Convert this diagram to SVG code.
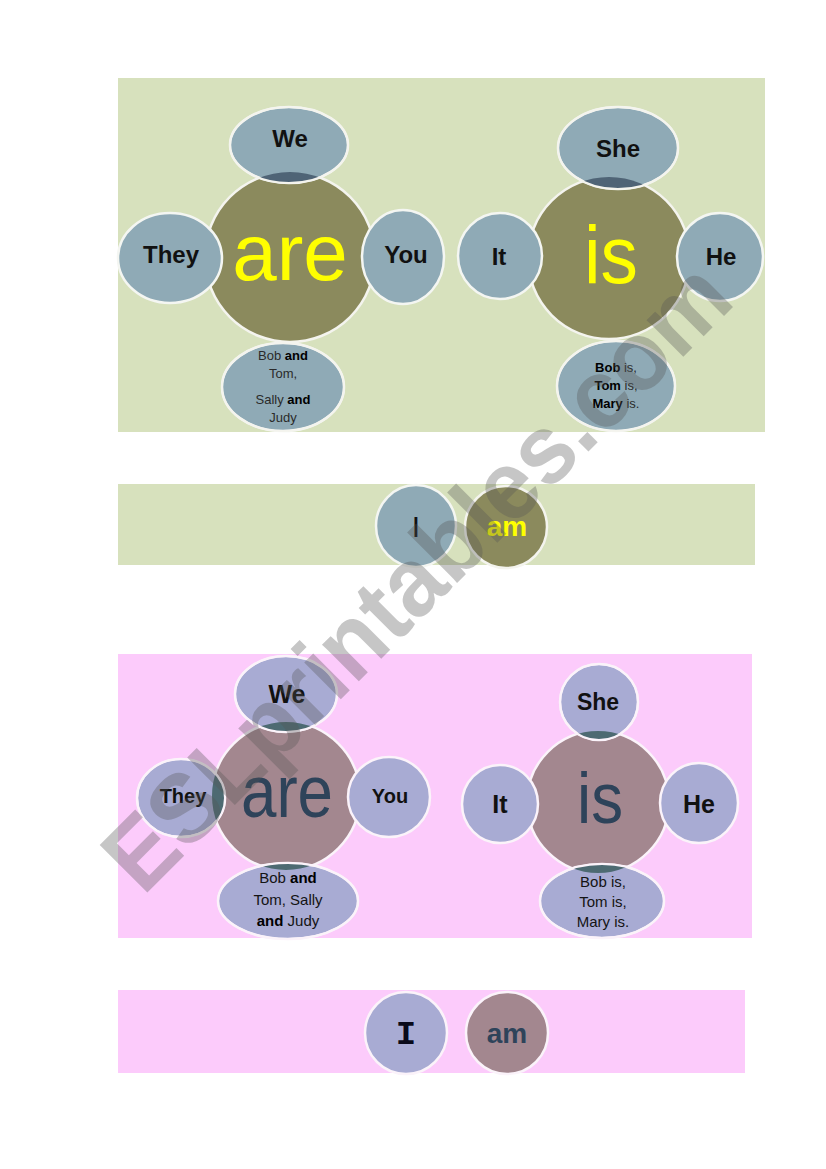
<svg xmlns="http://www.w3.org/2000/svg" width="826" height="1169" viewBox="0 0 826 1169">
<style>
.gp{fill:#d7e1bd}
.pp{fill:#fccbfb}
.oc{fill:#8b8a5d;stroke:#f4f4ee;stroke-width:2.5}
.gs{fill:#8faab6;stroke:#f4f6f2;stroke-width:2.5}
.mc{fill:#a3878f;stroke:#fbf3fa;stroke-width:2.5}
.ps{fill:#a8abd3;stroke:#fbf3fa;stroke-width:2.5}
.gdk{fill:#4f6476}
.pdk{fill:#4d6a72}
.ln{fill:none;stroke:#f4f4ee;stroke-width:2}
.lab{font-family:"Liberation Sans",Arial,sans-serif;font-weight:bold;fill:#111;text-anchor:middle}
.sm{font-family:"Liberation Sans",Arial,sans-serif;fill:#2a2a2a;text-anchor:middle;font-size:13px}
.smp{font-family:"Liberation Sans",Arial,sans-serif;fill:#141414;text-anchor:middle;font-size:15px}
.b{font-weight:bold;fill:#000}
.big{font-family:"Liberation Sans",Arial,sans-serif;text-anchor:middle}
.yel{fill:#ffff00}
.sl{fill:#2e435a}
</style>
<defs>
<clipPath id="cA"><circle cx="290" cy="257" r="85"/></clipPath>
<clipPath id="cB"><circle cx="609" cy="258" r="81"/></clipPath>
<clipPath id="cC"><circle cx="286" cy="796" r="74"/></clipPath>
<clipPath id="cD"><circle cx="598" cy="802" r="71"/></clipPath>
</defs>

<g id="panel-green">
<rect class="gp" x="118" y="78" width="647" height="354"/>
<rect class="gp" x="118" y="484" width="637" height="81"/>
</g>
<g id="panel-pink">
<rect class="pp" x="118" y="654" width="634" height="284"/>
<rect class="pp" x="118" y="990" width="627" height="83"/>
</g>

<!-- green are -->
<g id="g-are">
<circle class="oc" cx="290" cy="257" r="85"/>
<text class="big yel" x="290" y="280" font-size="80">are</text>
</g>
<g id="g-we">
<ellipse class="gs" cx="289" cy="145" rx="59" ry="38"/>
<ellipse class="gdk" cx="289" cy="145" rx="59" ry="38" clip-path="url(#cA)"/>
<ellipse class="ln" cx="289" cy="145" rx="59" ry="38"/>
<text class="lab" x="290" y="147" font-size="24">We</text>
</g>
<g id="g-they">
<ellipse class="gs" cx="170" cy="258" rx="52" ry="45"/>
<text class="lab" x="171" y="263" font-size="24">They</text>
</g>
<g id="g-you">
<ellipse class="gs" cx="403" cy="257" rx="41" ry="47"/>
<text class="lab" x="406" y="263" font-size="24">You</text>
</g>
<g id="g-names-are">
<ellipse class="gs" cx="283" cy="387" rx="61" ry="44"/>
<ellipse class="gdk" cx="283" cy="387" rx="61" ry="44" clip-path="url(#cA)"/>
<ellipse class="ln" cx="283" cy="387" rx="61" ry="44"/>
<text class="sm" x="283" y="360">Bob <tspan class="b">and</tspan></text>
<text class="sm" x="283" y="378">Tom,</text>
<text class="sm" x="283" y="404">Sally <tspan class="b">and</tspan></text>
<text class="sm" x="283" y="422">Judy</text>
</g>

<!-- green is -->
<g id="g-is">
<circle class="oc" cx="609" cy="258" r="81"/>
<text class="big yel" x="611" y="283" font-size="82" textLength="54" lengthAdjust="spacingAndGlyphs">is</text>
</g>
<g id="g-she">
<ellipse class="gs" cx="618" cy="148" rx="60" ry="41"/>
<ellipse class="gdk" cx="618" cy="148" rx="60" ry="41" clip-path="url(#cB)"/>
<ellipse class="ln" cx="618" cy="148" rx="60" ry="41"/>
<text class="lab" x="618" y="157" font-size="24">She</text>
</g>
<g id="g-it">
<ellipse class="gs" cx="500" cy="256" rx="42" ry="43"/>
<text class="lab" x="499" y="265" font-size="24">It</text>
</g>
<g id="g-he">
<ellipse class="gs" cx="720" cy="257" rx="43" ry="44"/>
<text class="lab" x="721" y="265" font-size="24">He</text>
</g>
<g id="g-names-is">
<ellipse class="gs" cx="616" cy="386" rx="59" ry="45"/>
<ellipse class="gdk" cx="616" cy="386" rx="59" ry="45" clip-path="url(#cB)"/>
<ellipse class="ln" cx="616" cy="386" rx="59" ry="45"/>
<text class="sm" x="616" y="372"><tspan class="b">Bob</tspan> is,</text>
<text class="sm" x="616" y="390"><tspan class="b">Tom</tspan> is,</text>
<text class="sm" x="616" y="408"><tspan class="b">Mary</tspan> is.</text>
</g>

<!-- green I am -->
<g id="g-i">
<ellipse class="gs" cx="416" cy="526" rx="40" ry="41"/>
<text class="big" x="416" y="537" font-size="30" fill="#111">I</text>
</g>
<g id="g-am">
<ellipse class="oc" cx="506" cy="527" rx="41" ry="41"/>
<text class="big yel" x="507" y="536" font-size="28" font-weight="bold">am</text>
</g>

<!-- pink are -->
<g id="p-are">
<circle class="mc" cx="286" cy="796" r="74"/>
<text class="big sl" x="287" y="817" font-size="74" textLength="92" lengthAdjust="spacingAndGlyphs">are</text>
</g>
<g id="p-we">
<ellipse class="ps" cx="286" cy="694" rx="51" ry="38"/>
<ellipse class="pdk" cx="286" cy="694" rx="51" ry="38" clip-path="url(#cC)"/>
<ellipse class="ln" cx="286" cy="694" rx="51" ry="38" style="stroke:#fbf3fa"/>
<text class="lab" x="287" y="703" font-size="25">We</text>
</g>
<g id="p-they">
<ellipse class="ps" cx="181" cy="798" rx="44" ry="39"/>
<ellipse class="pdk" cx="181" cy="798" rx="44" ry="39" clip-path="url(#cC)"/>
<ellipse class="ln" cx="181" cy="798" rx="44" ry="39" style="stroke:#fbf3fa"/>
<text class="lab" x="183" y="803" font-size="20">They</text>
</g>
<g id="p-you">
<ellipse class="ps" cx="389" cy="797" rx="41" ry="40"/>
<text class="lab" x="390" y="803" font-size="20">You</text>
</g>
<g id="p-names-are">
<ellipse class="ps" cx="288" cy="901" rx="70" ry="38"/>
<ellipse class="pdk" cx="288" cy="901" rx="70" ry="38" clip-path="url(#cC)"/>
<ellipse class="ln" cx="288" cy="901" rx="70" ry="38" style="stroke:#fbf3fa"/>
<text class="smp" x="288" y="883">Bob <tspan class="b">and</tspan></text>
<text class="smp" x="288" y="905">Tom, Sally</text>
<text class="smp" x="288" y="926"><tspan class="b">and</tspan> Judy</text>
</g>

<!-- pink is -->
<g id="p-is">
<circle class="mc" cx="598" cy="802" r="71"/>
<text class="big sl" x="600" y="823" font-size="72" textLength="46" lengthAdjust="spacingAndGlyphs">is</text>
</g>
<g id="p-she">
<ellipse class="ps" cx="599" cy="702" rx="39" ry="38"/>
<ellipse class="pdk" cx="599" cy="702" rx="39" ry="38" clip-path="url(#cD)"/>
<ellipse class="ln" cx="599" cy="702" rx="39" ry="38" style="stroke:#fbf3fa"/>
<text class="lab" x="598" y="710" font-size="23">She</text>
</g>
<g id="p-it">
<ellipse class="ps" cx="500" cy="804" rx="38" ry="39"/>
<text class="lab" x="500" y="813" font-size="25">It</text>
</g>
<g id="p-he">
<ellipse class="ps" cx="699" cy="803" rx="39" ry="40"/>
<text class="lab" x="699" y="813" font-size="25">He</text>
</g>
<g id="p-names-is">
<ellipse class="ps" cx="602" cy="901" rx="62" ry="37"/>
<ellipse class="pdk" cx="602" cy="901" rx="62" ry="37" clip-path="url(#cD)"/>
<ellipse class="ln" cx="602" cy="901" rx="62" ry="37" style="stroke:#fbf3fa"/>
<text class="smp" x="603" y="887">Bob is,</text>
<text class="smp" x="603" y="907">Tom is,</text>
<text class="smp" x="603" y="927">Mary is.</text>
</g>

<!-- pink I am -->
<g id="p-i">
<ellipse class="ps" cx="406" cy="1033" rx="41" ry="41"/>
<text x="406" y="1044" font-family="'Liberation Mono',monospace" font-weight="bold" font-size="34" text-anchor="middle" fill="#0a0a1a">I</text>
</g>
<g id="p-am">
<ellipse class="mc" cx="507" cy="1033" rx="41" ry="41"/>
<text class="big sl" x="507" y="1043" font-size="28" font-weight="bold">am</text>
</g>

<g id="watermark" opacity="0.33">
<text x="0" y="0" transform="translate(440,600) rotate(-45)" font-family="'Liberation Sans',Arial,sans-serif" font-weight="bold" font-size="98" fill="#555" text-anchor="middle" textLength="840" lengthAdjust="spacingAndGlyphs">ESLprintables.com</text>
</g>
</svg>
